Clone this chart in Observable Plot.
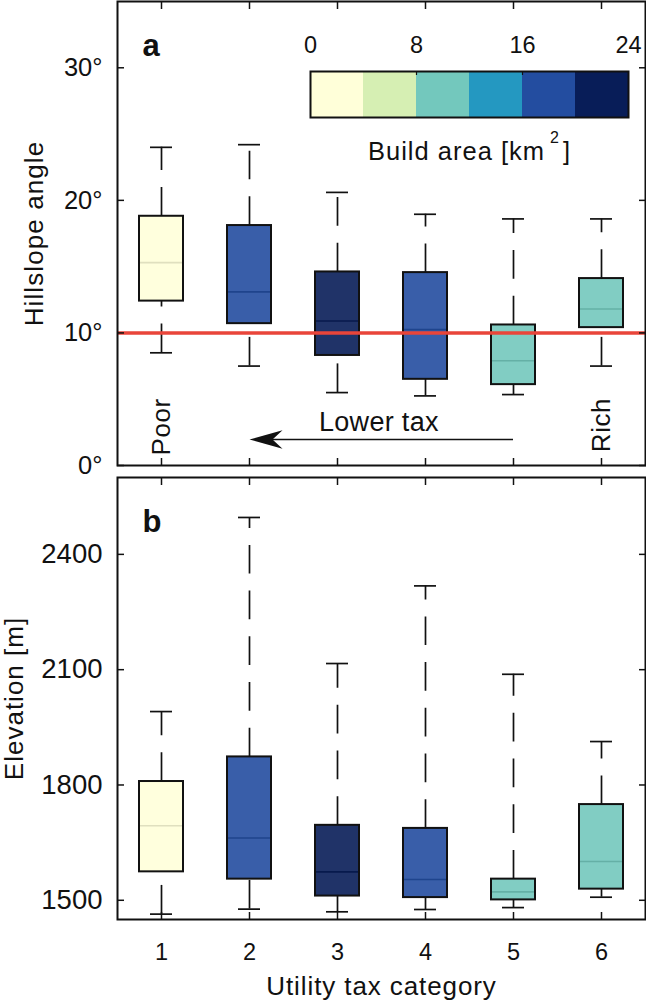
<!DOCTYPE html>
<html>
<head>
<meta charset="utf-8">
<script src="https://cdn.jsdelivr.net/npm/d3@7"></script>
<script src="https://cdn.jsdelivr.net/npm/@observablehq/plot@0.6"></script>
<style>
  html, body { margin: 0; padding: 0; background: #fff; }
  #fig { position: relative; width: 646px; height: 1003px; overflow: hidden; }
  #fig svg { display: block; overflow: visible; }
</style>
</head>
<body>
<div id="fig"></div>
<script>
// Utility tax categories (1 = poor ... 6 = rich)
const categories = [1, 2, 3, 4, 5, 6];
// Build area per category [km²]
const buildArea = [2, 18, 22, 18, 10, 10];

// Hillslope angle [degrees]: whisker low, Q1, median, Q3, whisker high
const slopeLow  = [8.5, 7.5, 5.5, 5.25, 5.35, 7.5];
const slopeQ1   = [12.4, 10.7, 8.3, 6.5, 6.1, 10.4];
const slopeMed  = [15.3, 13.1, 10.9, 10.25, 7.9, 11.8];
const slopeQ3   = [18.8, 18.1, 14.6, 14.55, 10.6, 14.1];
const slopeHigh = [24.0, 24.2, 20.6, 18.95, 18.6, 18.6];

// Elevation [m]: whisker low, Q1, median, Q3, whisker high
const elevLow  = [1464, 1477, 1470, 1476, 1481, 1508];
const elevQ1   = [1574, 1555, 1511, 1507, 1501, 1529];
const elevMed  = [1694, 1662, 1574, 1554, 1522, 1601];
const elevQ3   = [1809, 1873, 1695, 1687, 1555, 1749];
const elevHigh = [1991, 2496, 2116, 2318, 2088, 1913];

const slopeThreshold = 10;
const slopeTicks = [0, 10, 20, 30];
const elevTicks = [1500, 1800, 2100, 2400];

// Build-area colour classes
const areaThresholds = [4, 8, 12, 16, 20];
const areaColors = ["#ffffd9", "#d6efb3", "#73c8bd", "#2498c1", "#234da0", "#081d58"];
const areaTicks = [0, 8, 16, 24];
const areaTitle = "Build area [km2]";

// Annotations in panel a
const endLabels = [
  {cat: 1, y: 0.75, label: "Poor"},
  {cat: 6, y: 1.0, label: "Rich"}
];
const taxNote = [{cat: 3.47, y: 2.64, label: "Lower tax"}];
const taxArrow = [{from: 5, to: 2, y: 1.96}];

const font = "'Liberation Sans', Arial, Helvetica, sans-serif";
const areaColor = d3.scaleThreshold(areaThresholds, areaColors);
const shade = c => { const k = d3.rgb(c); return d3.rgb(k.r * 0.88, k.g * 0.88, k.b * 0.88).formatHex(); };

function rowsOf(low, q1, med, q3, high) {
  return categories.map((cat, i) => ({
    cat, low: low[i], q1: q1[i], med: med[i], q3: q3[i], high: high[i],
    fill: areaColor(buildArea[i]), line: shade(areaColor(buildArea[i]))
  }));
}

function boxMarks(rows) {
  const half = 0.25, cap = 0.125, ink = "#111";
  return [
    Plot.rect(rows, {x1: d => d.cat - half, x2: d => d.cat + half, y1: "q1", y2: "q3", fill: "fill", fillOpacity: 0.9}),
    Plot.ruleY(rows, {y: "med", x1: d => d.cat - half, x2: d => d.cat + half, stroke: "line", strokeWidth: 1.6}),
    Plot.rect(rows, {x1: d => d.cat - half, x2: d => d.cat + half, y1: "q1", y2: "q3", fill: "none", stroke: ink, strokeWidth: 2}),
    Plot.ruleX(rows, {x: "cat", y1: "q3", y2: "high", stroke: ink, strokeWidth: 1.7, strokeDasharray: "28.7,17"}),
    Plot.ruleX(rows, {x: "cat", y1: "low", y2: "q1", stroke: ink, strokeWidth: 1.7, strokeDasharray: "28.7,17"}),
    Plot.ruleY(rows, {y: "high", x1: d => d.cat - cap, x2: d => d.cat + cap, stroke: ink, strokeWidth: 1.7}),
    Plot.ruleY(rows, {y: "low", x1: d => d.cat - cap, x2: d => d.cat + cap, stroke: ink, strokeWidth: 1.7})
  ];
}

// Box frame with inward ticks on all four sides, labels on the left
function frameMarks(ticksY, format) {
  const inward = {tickSize: 7, tickFormat: () => "", strokeWidth: 1.5, label: null};
  return [
    Plot.frame({stroke: "#111", strokeWidth: 2}),
    Plot.axisY({anchor: "left", ticks: ticksY, dx: 7, ...inward}),
    Plot.axisY({anchor: "right", ticks: ticksY, dx: -7, ...inward}),
    Plot.axisX({anchor: "top", ticks: categories, dy: 7, ...inward}),
    Plot.axisX({anchor: "bottom", ticks: categories, dy: -7, ...inward}),
    Plot.axisY({anchor: "left", ticks: ticksY, tickSize: 0, tickPadding: 15, tickFormat: format, label: null})
  ];
}

function panelLetter(letter) {
  return Plot.text([letter], {frameAnchor: "top-left", dx: 25, dy: 54, lineAnchor: "bottom", textAnchor: "start", fontSize: 31, fontWeight: "bold"});
}

function yTitle(title, dx) {
  return Plot.text([title], {frameAnchor: "left", dx, rotate: -90, lineAnchor: "top", textAnchor: "middle", fontSize: 26});
}

const style = {fontFamily: font, fontSize: "25px", color: "#111", background: "transparent"};

// Arrow head pointing left, tip at the anchor point
const arrowHead = {
  draw(context) {
    context.moveTo(0, 0);
    context.lineTo(33, -9.2);
    context.lineTo(23, 0);
    context.lineTo(33, 9.2);
    context.closePath();
  }
};

const slopeRows = rowsOf(slopeLow, slopeQ1, slopeMed, slopeQ3, slopeHigh);
const elevRows = rowsOf(elevLow, elevQ1, elevMed, elevQ3, elevHigh);

const panelA = Plot.plot({
  width: 646, height: 470,
  marginLeft: 117, marginRight: 1, marginTop: 1, marginBottom: 5,
  x: {domain: [0.5, 6.5], label: null},
  y: {domain: [0, 35], label: null},
  color: {type: "identity"},
  style,
  marks: [
    ...boxMarks(slopeRows),
    Plot.ruleY([slopeThreshold], {stroke: "#e9453a", strokeWidth: 3.6}),
    Plot.text(endLabels, {x: "cat", y: "y", text: "label", rotate: -90, textAnchor: "start", lineAnchor: "middle", fontSize: 26}),
    Plot.text(taxNote, {x: "cat", y: "y", text: "label", textAnchor: "middle", lineAnchor: "bottom", fontSize: 27}),
    Plot.ruleY(taxArrow, {y: "y", x1: d => d.to + 0.25, x2: "from", stroke: "#111", strokeWidth: 1.3}),
    Plot.dot(taxArrow, {x: "to", y: "y", symbol: arrowHead, fill: "#111", stroke: "none"}),
    ...frameMarks(slopeTicks, d => `${d}°`),
    panelLetter("a"),
    yTitle("Hillslope angle", -93)
  ]
});

const panelB = Plot.plot({
  width: 646, height: 533,
  marginLeft: 117, marginRight: 1, marginTop: 7, marginBottom: 84,
  x: {domain: [0.5, 6.5], label: null},
  y: {domain: [1450, 2600], label: null},
  color: {type: "identity"},
  style,
  marks: [
    ...boxMarks(elevRows),
    ...frameMarks(elevTicks, d => `${d}`),
    Plot.axisX({anchor: "bottom", ticks: categories, tickSize: 0, tickPadding: 24, tickFormat: d => `${d}`, label: null}),
    Plot.text(["Utility tax category"], {frameAnchor: "bottom", dy: 75, lineAnchor: "bottom", textAnchor: "middle", fontSize: 26}),
    panelLetter("b"),
    yTitle("Elevation [m]", -113)
  ]
});

// Colour bar for build area, laid over panel a
const barRows = areaColors.map((c, i) => ({
  lo: i === 0 ? areaTicks[0] : areaThresholds[i - 1],
  hi: i === areaColors.length - 1 ? areaTicks[areaTicks.length - 1] : areaThresholds[i],
  color: c
}));

const bar = Plot.plot({
  width: 646, height: 170,
  marginLeft: 310, marginRight: 18, marginTop: 71, marginBottom: 53,
  x: {domain: [0, 24], label: null},
  color: {type: "identity"},
  style,
  marks: [
    Plot.rect(barRows, {x1: "lo", x2: "hi", fill: "color"}),
    Plot.axisX({anchor: "top", ticks: [8, 16], tickSize: 3, dy: 3, tickFormat: () => "", strokeWidth: 1.2, label: null}),
    Plot.frame({stroke: "#111", strokeWidth: 2}),
    Plot.axisX({anchor: "top", ticks: areaTicks, tickSize: 0, tickPadding: 19, label: null}),
    Plot.text([areaTitle], {x: 12, frameAnchor: "bottom", dy: 42, lineAnchor: "bottom", textAnchor: "middle", fontSize: 25.5})
  ]
});
bar.style.position = "absolute";
bar.style.left = "0px";
bar.style.top = "0px";

// Tick label sizes
function tickFont(svg, axis, size) {
  svg.querySelectorAll(`g[aria-label="${axis}-axis tick label"] text`).forEach(t => { t.style.fontSize = `${size}px`; });
}
tickFont(panelA, "y", 25.5);
tickFont(panelB, "y", 27.5);
tickFont(panelB, "x", 23.5);
tickFont(bar, "x", 23.5);

// Letter spacing for the word labels
const tracking = {
  "Hillslope angle": 1.1, "Elevation [m]": 1.0, "Utility tax category": 0.9,
  "Poor": 0.6, "Rich": 0.6, "Lower tax": 0.3, [areaTitle]: 1.0
};
for (const svg of [panelA, panelB, bar]) {
  svg.querySelectorAll("text").forEach(t => {
    const s = tracking[t.textContent];
    if (s) t.style.letterSpacing = `${s}px`;
  });
}

// Superscript in the colour bar title
d3.select(bar).selectAll("text").filter(function () { return this.textContent === areaTitle; }).each(function () {
  const t = d3.select(this);
  t.text(null);
  t.append("tspan").text("Build area [km");
  t.append("tspan").attr("font-size", 16).attr("dx", 5).attr("dy", -16.5).text("2");
  t.append("tspan").attr("dx", 3).attr("dy", 16.5).text("]");
});

document.getElementById("fig").append(panelA, panelB, bar);
</script>
</body>
</html>
